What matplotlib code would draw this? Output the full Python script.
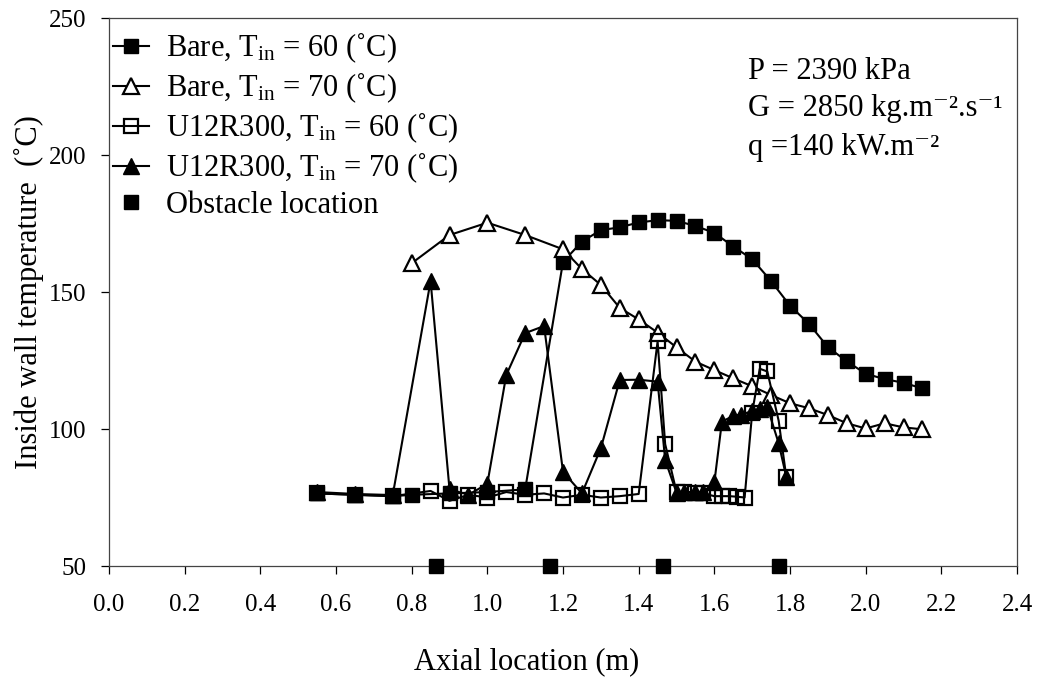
import matplotlib
matplotlib.use("Agg")
import matplotlib.pyplot as plt

plt.rcParams['font.family'] = ['Liberation Serif', 'DejaVu Serif']
plt.rcParams['mathtext.fontset'] = 'custom'
plt.rcParams['mathtext.rm'] = 'Liberation Serif'
plt.rcParams['mathtext.it'] = 'Liberation Serif:italic'

# Bare tube, inlet temperature 60 C
bare60_x = [0.55, 0.65, 0.75, 0.80, 0.90, 1.00, 1.10, 1.20, 1.25, 1.30, 1.35, 1.40,
            1.45, 1.50, 1.55, 1.60, 1.65, 1.70, 1.75, 1.80, 1.85, 1.90, 1.95, 2.00,
            2.05, 2.10, 2.15]
bare60_y = [76.5, 76.0, 75.5, 76.0, 76.5, 77.0, 78.0, 161.0, 168.4, 172.6, 173.6, 175.4,
            176.2, 176.0, 174.1, 171.6, 166.6, 162.0, 154.0, 145.0, 138.4, 129.9, 124.7, 120.2,
            118.2, 116.9, 114.8]

# Bare tube, inlet temperature 70 C
bare70_x = [0.80, 0.90, 1.00, 1.10, 1.20, 1.25, 1.30, 1.35, 1.40, 1.45, 1.50, 1.55,
            1.60, 1.65, 1.70, 1.75, 1.80, 1.85, 1.90, 1.95, 2.00, 2.05, 2.10, 2.15]
bare70_y = [160.5, 170.8, 175.3, 170.8, 165.6, 158.4, 152.6, 144.2, 140.0, 135.2, 129.8, 124.6,
            121.5, 118.5, 115.6, 112.4, 109.4, 107.6, 105.1, 102.1, 100.2, 102.1, 100.6, 99.9]

# Tube with obstacles U12R300, inlet temperature 60 C
u60_x = [0.55, 0.65, 0.75, 0.85, 0.90, 0.95, 1.00, 1.05, 1.10, 1.15, 1.20, 1.25, 1.30,
         1.35, 1.40, 1.45, 1.47, 1.50, 1.52, 1.55, 1.57, 1.60, 1.62, 1.64, 1.66, 1.68,
         1.70, 1.72, 1.74, 1.77, 1.79]
u60_y = [76.5, 76.0, 75.5, 77.4, 73.8, 76.0, 75.0, 77.0, 76.0, 76.5, 75.0, 76.0, 75.0,
         75.5, 76.3, 132.0, 94.5, 77.0, 77.0, 76.5, 76.5, 75.5, 75.5, 75.5, 75.3, 75.0,
         106.0, 122.0, 121.0, 103.0, 82.6]

# Tube with obstacles U12R300, inlet temperature 70 C
u70_x = [0.55, 0.65, 0.75, 0.85, 0.90, 0.95, 1.00, 1.05, 1.10, 1.15, 1.20, 1.25, 1.30,
         1.35, 1.40, 1.45, 1.47, 1.50, 1.52, 1.55, 1.57, 1.60, 1.62, 1.65, 1.67, 1.70,
         1.72, 1.74, 1.77, 1.79]
u70_y = [77.0, 76.3, 75.9, 154.0, 78.0, 76.0, 80.0, 119.7, 135.0, 137.6, 84.4, 76.5, 93.0,
         117.9, 118.0, 117.3, 88.7, 76.8, 77.0, 77.0, 77.0, 80.5, 102.7, 104.8, 105.3, 106.5,
         107.3, 108.0, 94.8, 82.6]

# Obstacle positions along the tube
obstacle_x = [0.865, 1.165, 1.465, 1.77]
obstacle_y = [50, 50, 50, 50]

labels = [r'Bare, T$_{\rm in}$ = 60 (˚C)',
          r'Bare, T$_{\rm in}$ = 70 (˚C)',
          r'U12R300, T$_{\rm in}$ = 60 (˚C)',
          r'U12R300, T$_{\rm in}$ = 70 (˚C)',
          'Obstacle location']

fig = plt.figure(figsize=(10.38, 6.80), dpi=100)
ax = fig.add_axes([0.105, 0.1676, 0.8748, 0.8059])

lw = 1.5
ax.plot(bare60_x, bare60_y, color='black', lw=lw, marker='s', ms=9.5,
        mfc='black', mec='black', label=labels[0], zorder=3)
ax.plot(bare70_x, bare70_y, color='black', lw=lw, marker='^', ms=12,
        mfc='white', mec='black', mew=1.6, label=labels[1], zorder=3)
ax.plot(u60_x, u60_y, color='black', lw=lw, marker='s', ms=10,
        mfc='none', mec='black', mew=1.6, label=labels[2], zorder=4)
ax.plot(u70_x, u70_y, color='black', lw=lw, marker='^', ms=12,
        mfc='black', mec='black', label=labels[3], zorder=3)
ax.plot(obstacle_x, obstacle_y, ls='none', marker='s', ms=10,
        mfc='black', mec='black', label=labels[4], zorder=5, clip_on=False)

ax.set_xlim(0, 2.4)
ax.set_ylim(50, 250)
ax.set_xticks([0.0, 0.2, 0.4, 0.6, 0.8, 1.0, 1.2, 1.4, 1.6, 1.8, 2.0, 2.2, 2.4])
ax.set_yticks([50, 100, 150, 200, 250])
ax.xaxis.set_major_formatter(matplotlib.ticker.FormatStrFormatter('%.1f'))
ax.tick_params(direction='out', length=6, width=0.9, labelsize=18, colors='black')
ax.tick_params(axis='x', pad=14)
ax.tick_params(axis='y', pad=10)
for s in ax.spines.values():
    s.set_linewidth(0.9)
    s.set_color('#444444')

ax.set_xlabel('Axial location (m)', fontsize=22)
ax.xaxis.set_label_coords(0.46, -0.148)
ax.set_ylabel('Inside wall temperature  (˚C)', fontsize=22)
ax.yaxis.set_label_coords(-0.072, 0.5)

leg = ax.legend(loc='upper left', bbox_to_anchor=(0.004, 0.977), frameon=False,
                fontsize=22, handlelength=1.2, handletextpad=0.55,
                borderaxespad=0.0, borderpad=0.0, labelspacing=0.18)

ax.text(0.704, 0.902, 'P = 2390 kPa', transform=ax.transAxes, fontsize=22, va='center')
ax.text(0.704, 0.834, 'G = 2850 kg.m⁻².s⁻¹', transform=ax.transAxes,
        fontsize=22, va='center')
ax.text(0.704, 0.764, 'q =140 kW.m⁻²', transform=ax.transAxes, fontsize=22,
        va='center')

fig.savefig('out.png', dpi=100, facecolor='white')
